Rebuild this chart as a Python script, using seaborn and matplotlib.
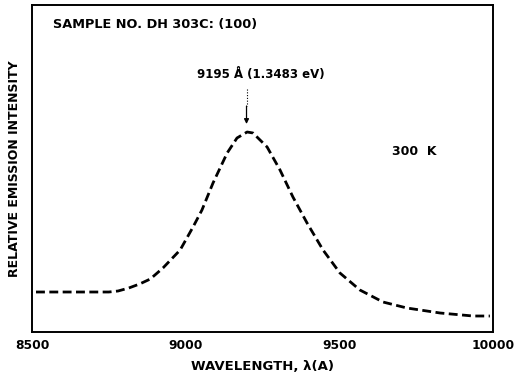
import matplotlib
matplotlib.use("Agg")
import matplotlib.pyplot as plt
import seaborn as sns
import pandas as pd

# Data (relative intensity, peak = 1)
wavelength = [8513, 8600, 8700, 8750, 8780, 8815, 8850, 8885, 8926, 8982, 9024,
              9053, 9089, 9135, 9167, 9200, 9219, 9265, 9307, 9349, 9395, 9447,
              9502, 9567, 9642, 9720, 9828, 9935, 9990]
intensity = [0.20, 0.20, 0.20, 0.20, 0.205, 0.22, 0.24, 0.265, 0.32, 0.41, 0.525,
             0.61, 0.745, 0.895, 0.97, 1.00, 0.995, 0.925, 0.81, 0.675, 0.545, 0.41,
             0.295, 0.21, 0.15, 0.12, 0.095, 0.08, 0.08]
x_ticks = [8500, 9000, 9500, 10000]
x_tick_labels = ["8500", "9000", "9500", "10000"]
peak_wavelength = 9198

sns.set_style("white")
plt.rcParams['font.family'] = ['DejaVu Sans']
plt.rcParams['text.color'] = 'black'
plt.rcParams['axes.labelcolor'] = 'black'
plt.rcParams['xtick.color'] = 'black'

fig = plt.figure(figsize=(5.18, 3.84), dpi=100)
ax = fig.add_axes([0.0618, 0.1354, 0.8899, 0.8516])

df = pd.DataFrame({"wavelength": wavelength, "intensity": intensity})
sns.lineplot(data=df, x="wavelength", y="intensity", ax=ax, color="black",
             linewidth=2.0, linestyle=(0, (3.2, 1.6)))

ax.set_xlim(8500, 10000)
ax.set_ylim(0, 1.635)
ax.set_xticks(x_ticks)
ax.set_xticklabels(x_tick_labels, fontsize=8.8, fontweight="bold")
ax.set_yticks([])
ax.tick_params(axis="x", direction="in", length=4, width=1, color="black", pad=5)
for s in ax.spines.values():
    s.set_color("black")
    s.set_linewidth(1.4)

ax.set_xlabel("WAVELENGTH, λ(A)", fontsize=9.5, fontweight="bold", labelpad=6)
ax.set_ylabel("RELATIVE EMISSION INTENSITY", fontsize=9, fontweight="bold",
              labelpad=8)

ax.text(8568, 1.535, "SAMPLE NO. DH 303C: (100)", fontsize=9.3,
        fontweight="bold", ha="left", va="center")
ax.text(9672, 0.90, "300  K", fontsize=9, fontweight="bold",
        ha="left", va="center")
ax.text(9245, 1.285, "9195 Å (1.3483 eV)", fontsize=8.5, fontweight="bold",
        ha="center", va="center")
# dotted upper part of the pointer, solid lower part with arrow head
ax.plot([peak_wavelength, peak_wavelength], [1.215, 1.13], color="black",
        lw=0.8, linestyle=(0, (1, 1.5)))
ax.annotate("", xy=(peak_wavelength, 1.04), xytext=(peak_wavelength, 1.13),
            arrowprops=dict(arrowstyle="-|>", color="black", lw=0.9,
                            mutation_scale=7, shrinkA=0, shrinkB=0))

fig.savefig("out.png", dpi=100)
